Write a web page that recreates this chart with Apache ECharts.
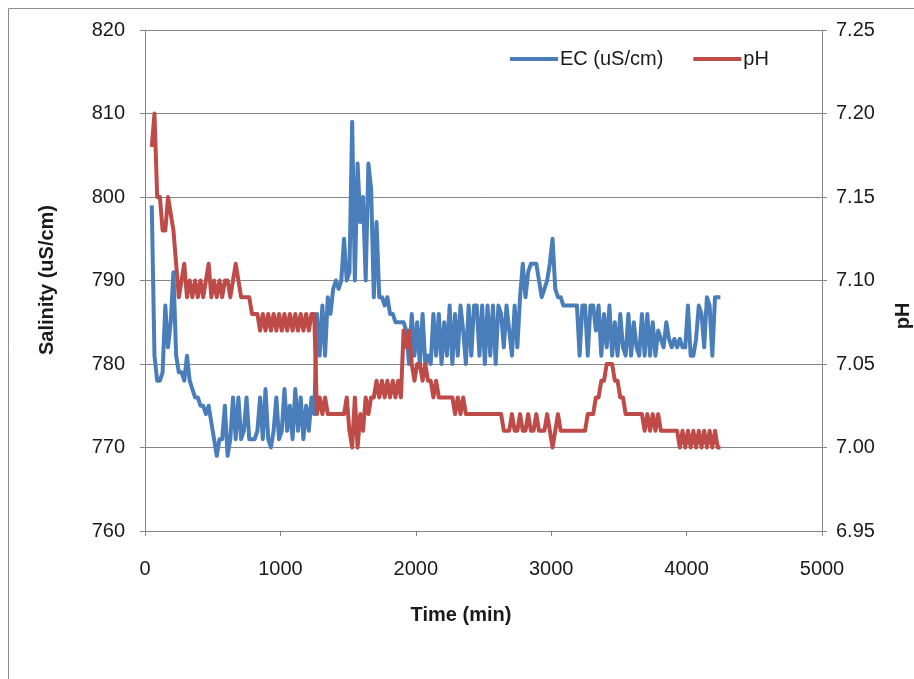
<!DOCTYPE html>
<html>
<head>
<meta charset="utf-8">
<script src="https://cdn.jsdelivr.net/npm/echarts@6/dist/echarts.min.js"></script>
<style>
  html, body { margin: 0; padding: 0; background: #ffffff; }
  #chart { width: 914px; height: 679px; }
</style>
</head>
<body>
<div id="chart"></div>
<script>
// Sampling times (min)
const timeMin = [
  50, 70, 90, 110, 130, 150, 170, 190, 210, 230,
  250, 270, 290, 310, 330, 350, 370, 390, 410, 430,
  450, 470, 490, 510, 530, 550, 570, 590, 610, 630,
  650, 670, 690, 710, 730, 750, 770, 790, 810, 830,
  850, 870, 890, 910, 930, 950, 970, 990, 1010, 1030,
  1050, 1070, 1090, 1110, 1130, 1150, 1170, 1190, 1210, 1230,
  1250, 1270, 1290, 1310, 1330, 1350, 1370, 1390, 1410, 1430,
  1450, 1470, 1490, 1510, 1530, 1550, 1570, 1590, 1610, 1630,
  1650, 1670, 1690, 1710, 1730, 1750, 1770, 1790, 1810, 1830,
  1850, 1870, 1890, 1910, 1930, 1950, 1970, 1990, 2010, 2030,
  2050, 2070, 2090, 2110, 2130, 2150, 2170, 2190, 2210, 2230,
  2250, 2270, 2290, 2310, 2330, 2350, 2370, 2390, 2410, 2430,
  2450, 2470, 2490, 2510, 2530, 2550, 2570, 2590, 2610, 2630,
  2650, 2670, 2690, 2710, 2730, 2750, 2770, 2790, 2810, 2830,
  2850, 2870, 2890, 2910, 2930, 2950, 2970, 2990, 3010, 3030,
  3050, 3070, 3090, 3110, 3130, 3150, 3170, 3190, 3210, 3230,
  3250, 3270, 3290, 3310, 3330, 3350, 3370, 3390, 3410, 3430,
  3450, 3470, 3490, 3510, 3530, 3550, 3570, 3590, 3610, 3630,
  3650, 3670, 3690, 3710, 3730, 3750, 3770, 3790, 3810, 3830,
  3850, 3870, 3890, 3910, 3930, 3950, 3970, 3990, 4010, 4030,
  4050, 4070, 4090, 4110, 4130, 4150, 4170, 4190, 4210, 4230,
  4250
];

// Electrical conductivity (uS/cm)
const ecValues = [
  799, 781, 778, 778, 779, 787, 782, 785, 791, 781,
  779, 779, 778, 781, 778, 777, 776, 776, 775, 775,
  774, 775, 773, 771, 769, 771, 771, 775, 769, 771,
  776, 771, 776, 771, 772, 776, 771, 771, 771, 772,
  776, 771, 777, 771, 770, 772, 776, 771, 772, 777,
  772, 775, 771, 777, 772, 776, 771, 775, 772, 776,
  774, 786, 781, 787, 781, 788, 786, 789, 790, 789,
  790, 795, 790, 791, 809, 790, 804, 797, 800, 790,
  804, 801, 788, 797, 788, 788, 787, 788, 786, 786,
  785, 785, 785, 785, 784, 780, 786, 781, 785, 780,
  786, 780, 781, 780, 786, 781, 786, 780, 785, 781,
  787, 780, 786, 781, 787, 784, 780, 787, 781, 787,
  787, 781, 787, 780, 787, 781, 787, 780, 787, 786,
  782, 787, 784, 781, 787, 782, 788, 792, 788, 791,
  792, 792, 792, 790, 788, 789, 790, 792, 795, 789,
  788, 788, 787, 787, 787, 787, 787, 787, 781, 787,
  787, 781, 787, 787, 784, 787, 781, 786, 782, 787,
  781, 785, 781, 786, 782, 781, 786, 781, 785, 782,
  781, 786, 781, 786, 781, 785, 781, 784, 783, 782,
  785, 783, 782, 783, 782, 783, 782, 782, 787, 781,
  781, 783, 787, 786, 782, 788, 787, 781, 788, 788,
  788
];

// pH readings
const phValues = [
  7.18, 7.20, 7.15, 7.15, 7.13, 7.13, 7.15, 7.14, 7.13, 7.11,
  7.09, 7.10, 7.11, 7.09, 7.10, 7.09, 7.10, 7.09, 7.10, 7.09,
  7.10, 7.11, 7.09, 7.10, 7.09, 7.10, 7.09, 7.10, 7.10, 7.09,
  7.10, 7.11, 7.10, 7.09, 7.09, 7.09, 7.09, 7.08, 7.08, 7.08,
  7.07, 7.08, 7.07, 7.08, 7.07, 7.08, 7.07, 7.08, 7.07, 7.08,
  7.07, 7.08, 7.07, 7.08, 7.07, 7.08, 7.07, 7.08, 7.07, 7.08,
  7.08, 7.02, 7.03, 7.02, 7.03, 7.02, 7.02, 7.02, 7.02, 7.02,
  7.02, 7.02, 7.03, 7.01, 7.00, 7.03, 7.00, 7.02, 7.01, 7.03,
  7.02, 7.03, 7.03, 7.04, 7.03, 7.04, 7.03, 7.04, 7.03, 7.04,
  7.03, 7.04, 7.03, 7.07, 7.06, 7.07, 7.05, 7.04, 7.05, 7.05,
  7.04, 7.05, 7.04, 7.04, 7.03, 7.04, 7.03, 7.03, 7.03, 7.03,
  7.03, 7.03, 7.02, 7.03, 7.02, 7.03, 7.02, 7.02, 7.02, 7.02,
  7.02, 7.02, 7.02, 7.02, 7.02, 7.02, 7.02, 7.02, 7.02, 7.02,
  7.01, 7.01, 7.01, 7.02, 7.01, 7.01, 7.02, 7.01, 7.01, 7.02,
  7.01, 7.01, 7.02, 7.01, 7.01, 7.01, 7.02, 7.01, 7.00, 7.01,
  7.02, 7.01, 7.01, 7.01, 7.01, 7.01, 7.01, 7.01, 7.01, 7.01,
  7.01, 7.02, 7.02, 7.02, 7.03, 7.03, 7.04, 7.04, 7.05, 7.05,
  7.05, 7.04, 7.04, 7.03, 7.03, 7.02, 7.02, 7.02, 7.02, 7.02,
  7.02, 7.02, 7.01, 7.02, 7.01, 7.02, 7.01, 7.02, 7.01, 7.01,
  7.01, 7.01, 7.01, 7.01, 7.01, 7.00, 7.01, 7.00, 7.01, 7.00,
  7.01, 7.00, 7.01, 7.00, 7.01, 7.00, 7.01, 7.00, 7.01, 7.00,
  7.00
];

const seriesNames = ['EC (uS/cm)', 'pH'];
const xTicks = { min: 0, max: 5000, interval: 1000 };
const ecTicks = { min: 760, max: 820, interval: 10 };
const phTicks = { min: 6.95, max: 7.25, interval: 0.05 };

const FONT = 'Liberation Sans';
const AXIS_GRAY = '#868686';
const TEXT_DARK = '#1a1a1a';
const EC_BLUE = '#4a7ebb';
const PH_RED = '#be4b48';

const ecData = timeMin.map((t, i) => [t, ecValues[i]]);
const phData = timeMin.map((t, i) => [t, phValues[i]]);

const chart = echarts.init(document.getElementById('chart'), null, { renderer: 'canvas' });

const tickLabel = { color: TEXT_DARK, fontFamily: FONT, fontSize: 20 };

chart.setOption({
  backgroundColor: '#ffffff',
  animation: false,
  grid: { left: 145, right: 92, top: 30, bottom: 148, containLabel: false },
  legend: {
    left: 510,
    top: 49,
    padding: 0,
    itemWidth: 48,
    itemHeight: 4,
    itemGap: 30,
    icon: 'rect',
    textStyle: { color: TEXT_DARK, fontFamily: FONT, fontSize: 20, padding: [0, 0, 0, -3] },
    data: seriesNames
  },
  xAxis: {
    type: 'value',
    min: xTicks.min,
    max: xTicks.max,
    interval: xTicks.interval,
    axisLine: { show: true, lineStyle: { color: AXIS_GRAY, width: 1 } },
    axisTick: { show: true, inside: false, length: 5, lineStyle: { color: AXIS_GRAY } },
    splitLine: { show: false },
    axisLabel: Object.assign({ margin: 28, formatter: v => String(v) }, tickLabel)
  },
  yAxis: [
    {
      type: 'value',
      position: 'left',
      min: ecTicks.min,
      max: ecTicks.max,
      interval: ecTicks.interval,
      axisLine: { show: true, lineStyle: { color: AXIS_GRAY, width: 1 } },
      axisTick: { show: true, inside: false, length: 5, lineStyle: { color: AXIS_GRAY } },
      splitLine: { show: true, lineStyle: { color: AXIS_GRAY, width: 1 } },
      axisLabel: Object.assign({ margin: 20, formatter: v => String(v) }, tickLabel)
    },
    {
      type: 'value',
      position: 'right',
      min: phTicks.min,
      max: phTicks.max,
      interval: phTicks.interval,
      axisLine: { show: true, lineStyle: { color: AXIS_GRAY, width: 1 } },
      axisTick: { show: true, inside: false, length: 5, lineStyle: { color: AXIS_GRAY } },
      splitLine: { show: false },
      axisLabel: Object.assign({
        margin: 14,
        formatter: v => v.toFixed(2)
      }, tickLabel)
    }
  ],
  series: [
    {
      name: seriesNames[0],
      type: 'line',
      yAxisIndex: 0,
      data: ecData,
      showSymbol: false,
      symbol: 'none',
      color: EC_BLUE,
      lineStyle: { color: EC_BLUE, width: 4, join: 'round' }
    },
    {
      name: seriesNames[1],
      type: 'line',
      yAxisIndex: 1,
      data: phData,
      showSymbol: false,
      symbol: 'none',
      color: PH_RED,
      lineStyle: { color: PH_RED, width: 4, join: 'round' }
    }
  ],
  graphic: [
    {
      type: 'rect',
      silent: true,
      shape: { x: 8.5, y: 8.5, width: 1200, height: 1200 },
      style: { fill: 'none', stroke: '#8c8c8c', lineWidth: 1 }
    },
    {
      type: 'text',
      x: 47,
      y: 280,
      rotation: Math.PI / 2,
      style: {
        text: 'Salinity (uS/cm)',
        fontFamily: FONT,
        fontSize: 20,
        fontWeight: 'bold',
        fill: TEXT_DARK,
        align: 'center',
        verticalAlign: 'middle'
      }
    },
    {
      type: 'text',
      x: 903,
      y: 316,
      rotation: Math.PI / 2,
      style: {
        text: 'pH',
        fontFamily: FONT,
        fontSize: 20,
        fontWeight: 'bold',
        fill: TEXT_DARK,
        align: 'center',
        verticalAlign: 'middle'
      }
    },
    {
      type: 'text',
      x: 461,
      y: 615,
      style: {
        text: 'Time (min)',
        fontFamily: FONT,
        fontSize: 20,
        fontWeight: 'bold',
        fill: TEXT_DARK,
        align: 'center',
        verticalAlign: 'middle'
      }
    }
  ]
});
</script>
</body>
</html>
